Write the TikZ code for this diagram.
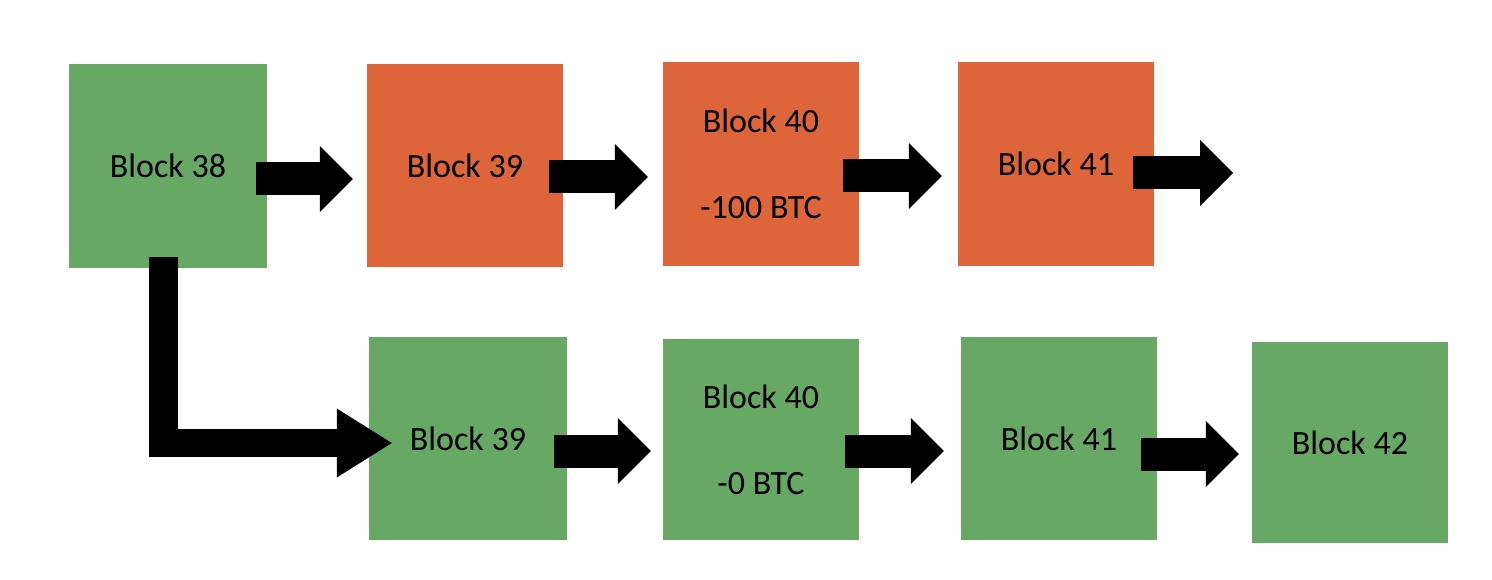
\documentclass[tikz,border=0pt]{standalone}
\usepackage{fontspec}
\setmainfont{Carlito}
\usetikzlibrary{arrows.meta}
\definecolor{bgreen}{HTML}{67A865}
\definecolor{borange}{HTML}{DE643A}
\begin{document}
\begin{tikzpicture}[x=1pt,y=-1pt,
  blk/.style={minimum width=196pt,minimum height=204pt,inner sep=0pt,
    font=\fontsize{34}{86}\selectfont,align=center,text=black},
  grn/.style={blk,fill=bgreen},
  org/.style={blk,fill=borange},
  fat/.style={line width=33pt,-{Triangle[width=66pt,length=33pt,line width=0pt]}},
  bent/.style={line width=28.5pt,line join=miter,-{Triangle[width=69pt,length=55pt,line width=0pt]}}
]
\useasboundingbox[fill=white] (0,0) rectangle (1492,580);
% top row
\node[grn,minimum width=198pt] (b38) at (168,166) {Block 38};
\node[org,minimum height=203pt] (r39) at (465,165.5) {Block 39};
\node[org] (r40) at (761,164) {Block 40\\-100 BTC};
\node[org] (r41) at (1056,164) {Block 41};
% bottom row
\node[grn,minimum width=198pt,minimum height=203pt] (g39) at (468,438.5) {Block 39};
\node[grn,minimum height=201pt] (g40) at (761,439.5) {Block 40\\-0 BTC};
\node[grn,minimum height=203pt] (g41) at (1059,438.5) {Block 41};
\node[grn,minimum height=201pt] (g42) at (1350,442.5) {Block 42};
\coordinate (end41) at (1233,173);
% arrows
\draw[fat] ([xshift=-11pt,yshift=-13pt]b38.east) -- ([xshift=-14pt,yshift=-13.5pt]r39.west);
\draw[fat] ([xshift=-14pt,yshift=-11.5pt]r39.east) -- ([xshift=-15pt,yshift=-13pt]r40.west);
\draw[fat] ([xshift=-16pt,yshift=-12pt]r40.east) -- ([xshift=-16pt,yshift=-12pt]r41.west);
\draw[fat] ([xshift=-21pt,yshift=-9pt]r41.east) -- (end41);
\draw[fat] ([xshift=-13pt,yshift=-12.5pt]g39.east) -- ([xshift=-12pt,yshift=-11.5pt]g40.west);
\draw[fat] ([xshift=-14pt,yshift=-11.5pt]g40.east) -- ([xshift=-17pt,yshift=-12.5pt]g41.west);
\draw[fat] ([xshift=-16pt,yshift=-15.5pt]g41.east) -- ([xshift=-13pt,yshift=-11.5pt]g42.west);
\draw[bent] ([xshift=-4.5pt,yshift=11pt]b38.south) |- ([xshift=23pt,yshift=-4.5pt]g39.west);
\end{tikzpicture}
\end{document}
